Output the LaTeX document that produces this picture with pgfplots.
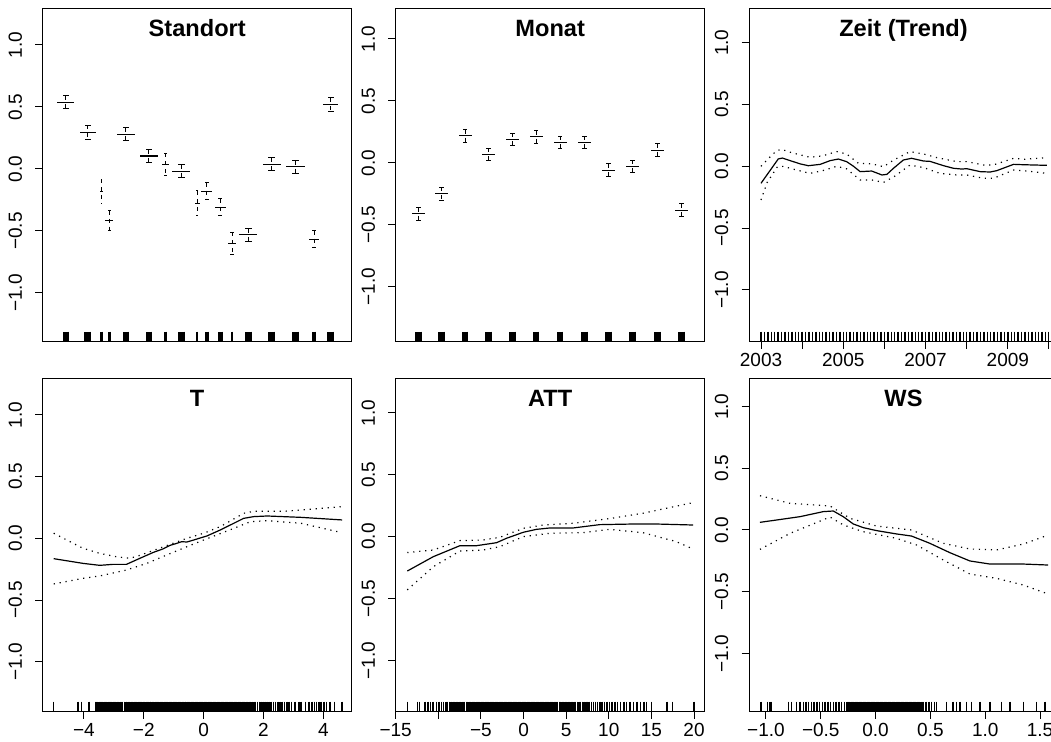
\documentclass[border=0pt]{standalone}
\usepackage{pgfplots}
\usepackage{pgfplotstable}
\pgfplotsset{compat=1.18}
\usepackage{fontspec}
\setmainfont{Liberation Sans}
\tikzset{rtitle/.style={font=\fontsize{11.8}{13}\selectfont\bfseries, anchor=base, inner sep=0pt}}
\pgfplotsset{
  rpanel/.style={
    scale only axis, width=154.5pt, height=166.7pt,
    axis line style={line width=0.5pt},
    tick style={black, line width=0.5pt},
    tick align=outside, major tick length=3.65pt,
    tick pos=left,
    ytick={-1,-0.5,0,0.5,1},
    yticklabels={−1.0,−0.5,0.0,0.5,1.0},
    ticklabel style={font=\fontsize{9.5}{11}\selectfont, inner sep=0pt},
    yticklabel style={rotate=90, anchor=south},
    xticklabel style={anchor=north},
    yticklabel shift=6.5pt,
    xticklabel shift=1.8pt,
    clip=true,
  },
  est/.style={black, line width=0.6pt},
  band/.style={black, line width=0.6pt, dash pattern=on 0.6pt off 2.4pt},
  rug/.style={black, only marks, mark=|, mark size=2.5pt, mark options={line width=0.75pt}},
  lvl/.style={draw=none, mark=none, error bars/.cd, x dir=both, x explicit, error mark=none, error bar style={draw=black, solid, line width=0.55pt}},
  cap/.style={draw=none, mark=none, error bars/.cd, x dir=both, x explicit, error mark=none, error bar style={draw=black, solid, line width=0.5pt}},
  vse/.style={draw=none, mark=none, error bars/.cd, y dir=minus, y explicit, error mark=none, error bar style={draw=black, line width=0.5pt, dash pattern=on 2pt off 2pt}},
}
\pgfplotstableread{
x w est up lo
23.3 17.0 0.538 0.589 0.486
45.0 15.7 0.296 0.352 0.239
58.6 3.0 -0.183 -0.081 -0.282
66.6 8.0 -0.417 -0.336 -0.497
83.3 17.7 0.277 0.331 0.226
106.3 18.3 0.105 0.156 0.051
123.0 7.3 0.038 0.127 -0.054
138.6 18.0 -0.019 0.035 -0.070
154.3 5.0 -0.277 -0.177 -0.379
164.0 11.0 -0.180 -0.110 -0.250
177.6 10.7 -0.309 -0.242 -0.379
189.3 8.0 -0.599 -0.511 -0.688
205.6 18.3 -0.532 -0.484 -0.583
229.0 18.3 0.038 0.089 -0.016
252.6 18.7 0.019 0.067 -0.035
271.3 10.0 -0.567 -0.497 -0.637
288.0 15.3 0.519 0.573 0.460
}\standort
\pgfplotstableread{
x w est up lo
22.6 13 -0.412 -0.361 -0.463
46.0 13 -0.250 -0.199 -0.304
69.3 13 0.218 0.269 0.167
93.0 13 0.067 0.118 0.016
116.6 13 0.188 0.240 0.137
140.3 13 0.210 0.261 0.156
164.3 13 0.164 0.213 0.113
188.6 13 0.167 0.215 0.113
212.6 13 -0.059 -0.008 -0.110
236.6 13 -0.027 0.022 -0.081
262.0 13 0.102 0.156 0.051
286.0 13 -0.382 -0.331 -0.433
}\monat
\begin{document}
\begin{tikzpicture}
% ---------------- Standort
\begin{axis}[rpanel, at={(21.35pt,200.15pt)}, anchor=south west,
  xmin=0, xmax=309, ymin=-1.393, ymax=1.296, xtick=\empty]
\addplot[lvl] table[x=x, y=est, x error expr=0.5*\thisrow{w}] {\standort};
\addplot[cap] table[x=x, y=up, x error expr=0.19*\thisrow{w}] {\standort};
\addplot[cap] table[x=x, y=lo, x error expr=0.19*\thisrow{w}] {\standort};
\addplot[vse] table[x=x, y=up, y error expr=\thisrow{up}-\thisrow{lo}] {\standort};
\addplot[rug, mark options={line width=3.25pt}] coordinates {(23.3,-1.3527) (45.0,-1.3527) (83.3,-1.3527) (106.3,-1.3527) (138.6,-1.3527) (205.6,-1.3527) (229.0,-1.3527) (252.6,-1.3527) (288.0,-1.3527)};
\addplot[rug, mark options={line width=2.2pt}] coordinates {(164.0,-1.3527) (177.6,-1.3527) (271.3,-1.3527)};
\addplot[rug, mark options={line width=1.4pt}] coordinates {(58.6,-1.3527) (66.6,-1.3527) (123.0,-1.3527) (154.3,-1.3527) (189.3,-1.3527)};
\node[rtitle] at (rel axis cs:0.5,0.914) {Standort};
\end{axis}
% ---------------- Monat
\begin{axis}[rpanel, at={(197.85pt,200.15pt)}, anchor=south west,
  xmin=0, xmax=309, ymin=-1.444, ymax=1.248, xtick=\empty]
\addplot[lvl] table[x=x, y=est, x error expr=0.5*\thisrow{w}] {\monat};
\addplot[cap] table[x=x, y=up, x error expr=0.19*\thisrow{w}] {\monat};
\addplot[cap] table[x=x, y=lo, x error expr=0.19*\thisrow{w}] {\monat};
\addplot[vse] table[x=x, y=up, y error expr=\thisrow{up}-\thisrow{lo}] {\monat};
\addplot[rug, mark options={line width=3.25pt}] coordinates {(22.6,-1.4037) (46.0,-1.4037) (69.3,-1.4037) (93.0,-1.4037) (116.6,-1.4037) (140.3,-1.4037) (164.3,-1.4037) (188.6,-1.4037) (212.6,-1.4037) (236.6,-1.4037) (262.0,-1.4037) (286.0,-1.4037)};
\node[rtitle] at (rel axis cs:0.5,0.914) {Monat};
\end{axis}
% ---------------- Zeit (Trend)
\begin{axis}[rpanel, at={(374.5pt,200.15pt)}, anchor=south west,
  xmin=2002.708, xmax=2010.22, ymin=-1.418, ymax=1.278,
  xtick={2003,2004,2005,2006,2007,2008,2009,2010},
  xticklabels={2003,,2005,,2007,,2009,}]
\addplot[est] coordinates {(2003.00,-0.137) (2003.42,0.060) (2003.52,0.067) (2003.71,0.046) (2003.95,0.020) (2004.15,0.005) (2004.44,0.016) (2004.68,0.046) (2004.88,0.059) (2005.08,0.038) (2005.25,0.000) (2005.41,-0.043) (2005.69,-0.038) (2005.94,-0.070) (2006.06,-0.065) (2006.22,-0.016) (2006.46,0.051) (2006.66,0.065) (2006.95,0.043) (2007.11,0.040) (2007.44,0.005) (2007.68,-0.016) (2007.88,-0.022) (2008.00,-0.019) (2008.33,-0.043) (2008.57,-0.046) (2008.73,-0.035) (2009.14,0.016) (2009.38,0.013) (2009.95,0.008)};
\addplot[band] coordinates {(2003.00,0.000) (2003.20,0.070) (2003.38,0.127) (2003.50,0.137) (2003.75,0.110) (2004.19,0.073) (2004.50,0.085) (2004.84,0.119) (2005.08,0.100) (2005.37,0.024) (2005.69,0.020) (2005.98,-0.003) (2006.22,0.050) (2006.62,0.119) (2006.95,0.100) (2007.28,0.070) (2007.76,0.038) (2008.00,0.038) (2008.41,0.011) (2008.65,0.011) (2009.14,0.065) (2009.38,0.057) (2009.95,0.070)};
\addplot[band] coordinates {(2003.00,-0.272) (2003.15,-0.130) (2003.40,-0.003) (2003.55,0.000) (2003.75,-0.020) (2004.19,-0.057) (2004.50,-0.035) (2004.84,0.000) (2005.08,-0.020) (2005.41,-0.110) (2005.69,-0.110) (2005.98,-0.130) (2006.25,-0.080) (2006.62,0.010) (2006.95,-0.010) (2007.35,-0.057) (2007.76,-0.070) (2008.00,-0.070) (2008.41,-0.097) (2008.65,-0.097) (2009.14,-0.030) (2009.38,-0.035) (2009.95,-0.057)};
\addplot[rug, mark options={line width=0.7pt}] table[y expr=-1.3775] {
x
2003.000
2003.083
2003.167
2003.250
2003.333
2003.417
2003.500
2003.583
2003.667
2003.750
2003.833
2003.917
2004.000
2004.083
2004.167
2004.250
2004.333
2004.417
2004.500
2004.583
2004.667
2004.750
2004.833
2004.917
2005.000
2005.083
2005.167
2005.250
2005.333
2005.417
2005.500
2005.583
2005.667
2005.750
2005.833
2005.917
2006.000
2006.083
2006.167
2006.250
2006.333
2006.417
2006.500
2006.583
2006.667
2006.750
2006.833
2006.917
2007.000
2007.083
2007.167
2007.250
2007.333
2007.417
2007.500
2007.583
2007.667
2007.750
2007.833
2007.917
2008.000
2008.083
2008.167
2008.250
2008.333
2008.417
2008.500
2008.583
2008.667
2008.750
2008.833
2008.917
2009.000
2009.083
2009.167
2009.250
2009.333
2009.417
2009.500
2009.583
2009.667
2009.750
2009.833
2009.917
2009.985
};
\node[rtitle] at (rel axis cs:0.5,0.914) {Zeit (Trend)};
\end{axis}
% ---------------- T
\begin{axis}[rpanel, at={(21.35pt,15.15pt)}, anchor=south west,
  xmin=-5.378, xmax=4.95, ymin=-1.405, ymax=1.297,
  xtick={-4,-2,0,2,4}, xticklabels={−4,−2,0,2,4}]
\addplot[est] coordinates {(-5.01,-0.165) (-4.03,-0.203) (-3.47,-0.219) (-3.03,-0.211) (-2.58,-0.211) (-2.13,-0.162) (-1.68,-0.114) (-1.35,-0.085) (-1.12,-0.057) (-0.90,-0.041) (-0.73,-0.027) (-0.56,-0.030) (-0.35,-0.015) (-0.11,0.003) (0.11,0.019) (0.56,0.068) (1.01,0.122) (1.34,0.162) (1.68,0.176) (2.13,0.181) (3.25,0.170) (4.63,0.149)};
\addplot[band] coordinates {(-5.01,0.041) (-4.03,-0.081) (-3.47,-0.122) (-2.90,-0.150) (-2.46,-0.162) (-2.13,-0.138) (-1.23,-0.059) (-0.56,0.000) (0.00,0.041) (0.56,0.095) (1.34,0.203) (1.68,0.219) (2.69,0.219) (4.63,0.257)};
\addplot[band] coordinates {(-5.01,-0.370) (-4.03,-0.324) (-3.47,-0.305) (-2.58,-0.257) (-1.90,-0.203) (-1.23,-0.135) (-0.56,-0.068) (0.00,-0.014) (1.01,0.081) (1.57,0.135) (2.13,0.143) (3.25,0.122) (4.48,0.054)};
\addplot[rug] table[y expr=-1.3645] {
x
-5.01
-4.20
-4.08
-3.83
-3.62
-3.58
-3.55
-3.50
-3.47
-3.42
-3.38
-3.33
-3.30
-3.25
-3.20
-3.17
-3.12
-3.08
-3.03
-2.98
-2.95
-2.90
-2.85
-2.80
-2.76
-2.72
-2.65
-2.60
-2.57
-2.52
-2.48
-2.42
-2.38
-2.33
-2.28
-2.25
-2.20
-2.15
-2.12
-2.08
-2.02
-1.98
-1.93
-1.90
-1.85
-1.80
-1.77
-1.72
-1.68
-1.63
-1.58
-1.55
-1.50
-1.46
-1.42
-1.37
-1.33
-1.28
-1.25
-1.20
-1.15
-1.12
-1.08
-1.03
-0.98
-0.95
-0.90
-0.86
-0.82
-0.77
-0.72
-0.68
-0.63
-0.60
-0.55
-0.50
-0.47
-0.42
-0.38
-0.33
-0.28
-0.25
-0.20
-0.15
-0.12
-0.07
-0.03
0.02
0.06
0.10
0.15
0.18
0.23
0.27
0.32
0.36
0.40
0.45
0.50
0.53
0.58
0.62
0.67
0.72
0.75
0.80
0.85
0.88
0.93
0.97
1.02
1.07
1.10
1.15
1.20
1.24
1.28
1.33
1.37
1.42
1.47
1.52
1.56
1.62
1.68
1.73
1.80
1.86
1.92
1.98
2.05
2.12
2.18
2.26
2.33
2.40
2.48
2.55
2.62
2.70
2.78
2.85
2.93
3.05
3.18
3.25
3.40
3.52
3.62
3.70
3.78
3.85
3.92
4.02
4.10
4.22
4.37
4.63
};
\node[rtitle] at (rel axis cs:0.5,0.914) {T};
\end{axis}
% ---------------- ATT
\begin{axis}[rpanel, at={(197.85pt,15.15pt)}, anchor=south west,
  xmin=-15.0, xmax=21.25, ymin=-1.415, ymax=1.28,
  xtick={-15,-10,-5,0,5,10,15,20}, xticklabels={−15,,−5,0,5,10,15,20}]
\addplot[est] coordinates {(-13.64,-0.278) (-10.59,-0.162) (-7.46,-0.073) (-5.51,-0.073) (-3.17,-0.049) (-1.99,-0.013) (-0.04,0.035) (1.52,0.059) (3.08,0.070) (5.81,0.070) (8.94,0.097) (12.85,0.102) (15.59,0.102) (19.88,0.094)};
\addplot[band] coordinates {(-13.64,-0.129) (-10.59,-0.108) (-7.46,-0.032) (-4.73,-0.027) (-2.77,-0.005) (-0.04,0.067) (2.30,0.094) (5.81,0.108) (10.10,0.146) (14.00,0.189) (19.88,0.275)};
\addplot[band] coordinates {(-13.64,-0.431) (-10.59,-0.243) (-7.46,-0.116) (-4.73,-0.108) (-2.77,-0.081) (-0.04,0.000) (3.08,0.027) (6.99,0.032) (10.10,0.059) (14.00,0.032) (17.90,-0.040) (19.88,-0.100)};
\addplot[rug] table[y expr=-1.3745] {
x
-13.64
-12.47
-12.23
-11.57
-11.20
-10.90
-10.60
-10.20
-9.90
-9.60
-9.40
-9.10
-8.90
-8.70
-8.50
-8.30
-8.10
-7.90
-7.75
-7.60
-7.40
-7.20
-7.05
-6.90
-6.70
-6.55
-6.40
-6.20
-6.05
-5.90
-5.75
-5.60
-5.45
-5.30
-5.15
-5.00
-4.85
-4.70
-4.55
-4.40
-4.25
-4.10
-3.95
-3.80
-3.65
-3.50
-3.35
-3.20
-3.05
-2.90
-2.75
-2.60
-2.45
-2.30
-2.15
-2.00
-1.85
-1.70
-1.55
-1.40
-1.25
-1.10
-0.95
-0.80
-0.65
-0.50
-0.35
-0.20
-0.05
0.10
0.25
0.40
0.55
0.70
0.85
1.00
1.15
1.30
1.45
1.60
1.75
1.90
2.05
2.20
2.35
2.50
2.65
2.80
2.95
3.10
3.25
3.40
3.55
3.70
3.85
4.00
4.20
4.35
4.50
4.70
4.85
5.00
5.20
5.40
5.55
5.75
5.90
6.10
6.30
6.50
6.70
6.90
7.10
7.30
7.50
7.70
7.95
8.20
8.45
8.70
8.95
9.20
9.50
9.80
10.10
10.40
10.70
11.00
11.40
11.80
12.10
12.50
12.90
13.30
13.70
14.10
14.41
15.00
16.83
17.46
20.00
};
\node[rtitle] at (rel axis cs:0.5,0.914) {ATT};
\end{axis}
% ---------------- WS
\begin{axis}[rpanel, at={(374.5pt,15.15pt)}, anchor=south west,
  xmin=-1.155, xmax=1.664, ymin=-1.473, ymax=1.23,
  xtick={-1,-0.5,0,0.5,1,1.5}, xticklabels={−1.0,−0.5,0.0,0.5,1.0,1.5}]
\addplot[est] coordinates {(-1.055,0.062) (-0.69,0.108) (-0.477,0.149) (-0.386,0.154) (-0.295,0.108) (-0.204,0.049) (-0.112,0.019) (0.009,-0.005) (0.191,-0.032) (0.328,-0.049) (0.495,-0.108) (0.678,-0.184) (0.86,-0.251) (1.043,-0.276) (1.347,-0.276) (1.574,-0.284)};
\addplot[band] coordinates {(-1.055,0.278) (-0.78,0.216) (-0.416,0.195) (-0.234,0.095) (0.009,0.032) (0.328,0.000) (0.617,-0.108) (0.86,-0.154) (1.103,-0.162) (1.347,-0.114) (1.574,-0.041)};
\addplot[band] coordinates {(-1.055,-0.157) (-0.78,-0.027) (-0.416,0.105) (-0.295,0.041) (-0.112,-0.014) (0.191,-0.068) (0.374,-0.122) (0.617,-0.243) (0.86,-0.357) (1.103,-0.392) (1.347,-0.446) (1.574,-0.519)};
\addplot[rug] table[y expr=-1.4325] {
x
-1.046
-0.988
-0.964
-0.948
-0.796
-0.766
-0.720
-0.690
-0.660
-0.635
-0.610
-0.585
-0.560
-0.535
-0.510
-0.485
-0.460
-0.435
-0.410
-0.385
-0.360
-0.335
-0.310
-0.285
-0.260
-0.248
-0.236
-0.224
-0.212
-0.200
-0.188
-0.176
-0.164
-0.152
-0.140
-0.128
-0.116
-0.104
-0.092
-0.080
-0.068
-0.056
-0.044
-0.032
-0.020
-0.008
0.004
0.016
0.028
0.040
0.052
0.064
0.076
0.088
0.100
0.112
0.124
0.136
0.148
0.160
0.172
0.184
0.196
0.208
0.220
0.232
0.244
0.256
0.268
0.280
0.292
0.304
0.316
0.328
0.340
0.352
0.364
0.376
0.388
0.400
0.412
0.424
0.436
0.460
0.485
0.510
0.535
0.556
0.647
0.708
0.739
0.769
0.830
0.875
0.951
1.043
1.149
1.225
1.347
1.468
1.544
};
\node[rtitle] at (rel axis cs:0.5,0.914) {WS};
\end{axis}
\pgfresetboundingbox
\path[use as bounding box] (0,0) rectangle (525.5pt,371pt);
\end{tikzpicture}
\end{document}
